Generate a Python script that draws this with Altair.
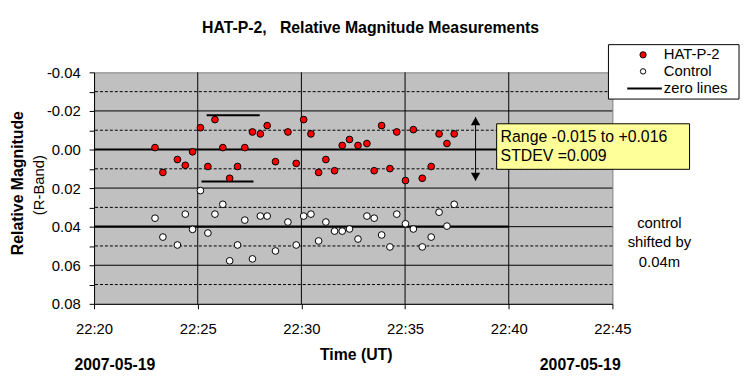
import altair as alt
import pandas as pd

FONT = "Liberation Sans"

# time of each measurement, minutes after 22:00 UT
times = [22.94, 23.32, 24.02, 24.40, 24.75, 25.13, 25.49, 25.83, 26.21, 26.54,
         26.92, 27.27, 27.64, 28.02, 28.35, 28.75, 29.35, 29.75, 30.11, 30.46,
         30.83, 31.18, 31.60, 31.97, 32.32, 32.73, 33.16, 33.51, 33.87, 34.27,
         34.60, 35.02, 35.40, 35.83, 36.26, 36.64, 37.02, 37.37]
hat_p2 = [-0.0010, 0.0119, 0.0052, 0.0082, 0.0012, -0.0113, 0.0088, -0.0155, -0.0010, 0.0149,
          0.0088, -0.0010, -0.0091, -0.0081, -0.0124, 0.0063, -0.0091, 0.0072, -0.0155, -0.0081,
          0.0119, 0.0052, 0.0110, -0.0021, -0.0052, -0.0021, -0.0031, 0.0110, -0.0124, 0.0099,
          -0.0091, 0.0161, -0.0103, 0.0149, 0.0088, -0.0081, -0.0031, -0.0081]
control = [0.0356, 0.0454, 0.0495, 0.0335, 0.0414, 0.0213, 0.0433, 0.0335, 0.0284, 0.0577,
           0.0495, 0.0366, 0.0567, 0.0345, 0.0345, 0.0526, 0.0376, 0.0495, 0.0345, 0.0335,
           0.0474, 0.0376, 0.0423, 0.0423, 0.0412, 0.0464, 0.0345, 0.0356, 0.0443, 0.0505,
           0.0335, 0.0385, 0.0412, 0.0505, 0.0454, 0.0325, 0.0397, 0.0284]

x_ticks = [20, 25, 30, 35, 40, 45]
y_ticks = [-0.04, -0.03, -0.02, -0.01, 0.00, 0.01, 0.02, 0.03, 0.04, 0.05, 0.06, 0.07, 0.08]
y_grid_solid = [-0.02, 0.00, 0.02, 0.04, 0.06]
y_grid_dashed = [-0.03, -0.01, 0.01, 0.03, 0.05, 0.07]
x_grid = [25, 30, 35, 40]

zero_levels = [0.00, 0.04]
zero_start, zero_end = 20, 40
range_lines = {"y": [-0.0178, 0.0166], "x1": [25.43, 25.18], "x2": [27.99, 27.69]}
arrow_x, arrow_top, arrow_bottom = 38.4, -0.0168, 0.0162

xs = alt.Scale(domain=[20, 45], nice=False, zero=False)
ys = alt.Scale(domain=[-0.04, 0.08], reverse=True, nice=False, zero=False)

xaxis = alt.Axis(values=x_ticks, labelExpr="'22:' + datum.value", title=None, grid=False,
                 tickSize=5, tickColor="black", domainColor="black", labelColor="black",
                 labelFont=FONT, labelFontSize=15, labelBaseline="alphabetic", labelPadding=25,
                 labelFlush=False, labelOverlap=False)
yaxis = alt.Axis(values=y_ticks,
                 labelExpr="abs(round(datum.value*100)) % 2 == 1 ? '' : (datum.value < -0.0001 ? '-' : '') + format(abs(datum.value), '.2f')",
                 title=None, grid=False, tickSize=5, tickColor="black", domainColor="black",
                 labelColor="black", labelFont=FONT, labelFontSize=15, labelPadding=9,
                 labelOverlap=False)


def X(f):
    return alt.X(f, scale=xs, axis=xaxis)


def Y(f):
    return alt.Y(f, scale=ys, axis=yaxis)


one = pd.DataFrame({"a": [0]})

grid_solid = alt.Chart(pd.DataFrame({"v": y_grid_solid})).mark_rule(color="black", strokeWidth=1).encode(
    y=Y("v:Q"))
grid_dash = alt.Chart(pd.DataFrame({"v": y_grid_dashed})).mark_rule(color="black", strokeWidth=1, strokeDash=[3, 2]).encode(
    y=Y("v:Q"))
grid_x = alt.Chart(pd.DataFrame({"t": x_grid})).mark_rule(color="black", strokeWidth=1).encode(
    x=X("t:Q"))

zero_df = pd.DataFrame({"v": zero_levels, "t1": [zero_start] * 2, "t2": [zero_end] * 2})
zeros = alt.Chart(zero_df).mark_rule(color="black", strokeWidth=2.2).encode(
    x=X("t1:Q"), x2="t2:Q", y=Y("v:Q"))

rl = alt.Chart(pd.DataFrame(range_lines)).mark_rule(color="black", strokeWidth=2).encode(
    x=X("x1:Q"), x2="x2:Q", y=Y("y:Q"))

arrow_df = pd.DataFrame({"t": [arrow_x], "y1": [arrow_top], "y2": [arrow_bottom]})
arrow = alt.Chart(arrow_df).mark_rule(color="black", strokeWidth=1).encode(
    x=X("t:Q"), y=Y("y1:Q"), y2="y2:Q")
head_up = alt.Chart(arrow_df).mark_point(shape="triangle-up", filled=True, color="black", size=90, opacity=1, yOffset=4).encode(
    x=X("t:Q"), y=Y("y1:Q"))
head_dn = alt.Chart(arrow_df).mark_point(shape="triangle-down", filled=True, color="black", size=90, opacity=1, yOffset=-4).encode(
    x=X("t:Q"), y=Y("y2:Q"))

red = alt.Chart(pd.DataFrame({"t": times, "v": hat_p2})).mark_point(
    shape="circle", filled=True, fill="#FF0000", stroke="black", strokeWidth=1, size=46, opacity=1).encode(
    x=X("t:Q"), y=Y("v:Q"))
ctrl = alt.Chart(pd.DataFrame({"t": times, "v": control})).mark_point(
    shape="circle", filled=True, fill="white", stroke="black", strokeWidth=1, size=46, opacity=1).encode(
    x=X("t:Q"), y=Y("v:Q"))


def txt(text, x, y, size=15, bold=False, align="left", angle=0, baseline="alphabetic", lh=None):
    kw = dict(text=text, fontSize=size, font=FONT, fontWeight="bold" if bold else "normal",
              align=align, baseline=baseline, color="black")
    if angle:
        kw["angle"] = angle
    if lh:
        kw["lineHeight"] = lh
    return alt.Chart(one).mark_text(**kw).encode(x=alt.value(x), y=alt.value(y))


def box(x1, y1, x2, y2, fill):
    return alt.Chart(one).mark_rect(fill=fill, stroke="black", strokeWidth=1).encode(
        x=alt.value(x1), x2=alt.value(x2), y=alt.value(y1), y2=alt.value(y2))


note_box = box(407, 52, 602, 98, "#FFFF99")
note1 = txt("Range -0.015 to +0.016", 411, 70, size=16)
note2 = txt("STDEV =0.009", 411, 90, size=16)

title = txt("HAT-P-2,\u00a0\u00a0\u00a0Relative Magnitude Measurements", 279.5, -40, size=16, bold=True, align="center")
ytitle1 = txt("Relative Magnitude", -77, 112, size=16, bold=True, align="center", angle=270, baseline="middle")
ytitle2 = txt("(R-Band)", -56, 114, size=15, align="center", angle=270, baseline="middle")
xtitle = txt("Time (UT)", 265, 291, size=16, bold=True, align="center")
date1 = txt("2007-05-19", 21, 301, size=16, bold=True, align="center")
date2 = txt("2007-05-19", 491.5, 301, size=16, bold=True, align="center")
shifted = txt(["control", "shifted by", "0.04m"], 571.5, 157, size=15, align="center", lh=20)

leg_box = box(520, -28, 652, 27, "white")
leg_red = alt.Chart(one).mark_point(shape="circle", filled=True, fill="#FF0000", stroke="black", strokeWidth=1, size=40, opacity=1).encode(
    x=alt.value(555), y=alt.value(-17.7))
leg_ctrl = alt.Chart(one).mark_point(shape="circle", filled=True, fill="white", stroke="black", strokeWidth=1, size=30, opacity=1).encode(
    x=alt.value(555), y=alt.value(-1))
leg_line = alt.Chart(one).mark_rule(color="black", strokeWidth=2).encode(
    x=alt.value(539), x2=alt.value(574), y=alt.value(16.3))
leg_t1 = txt("HAT-P-2", 576, -13.3, size=15)
leg_t2 = txt("Control", 576, 3.3, size=15)
leg_t3 = txt("zero lines", 576, 20.7, size=15)

chart = alt.layer(
    grid_solid, grid_dash, grid_x, zeros, rl, arrow, head_up, head_dn, ctrl, red,
    note_box, note1, note2, title, ytitle1, ytitle2, xtitle, date1, date2, shifted,
    leg_box, leg_red, leg_ctrl, leg_line, leg_t1, leg_t2, leg_t3,
).properties(
    width=524, height=234,
    padding={"left": 87, "top": 63, "right": 130, "bottom": 80},
    autosize=alt.AutoSizeParams(type="none"),
    background="white",
).configure_view(fill="#C0C0C0", stroke="#808080", strokeWidth=1)

chart.save("out.html", embed_options={"renderer": "svg", "actions": False})
